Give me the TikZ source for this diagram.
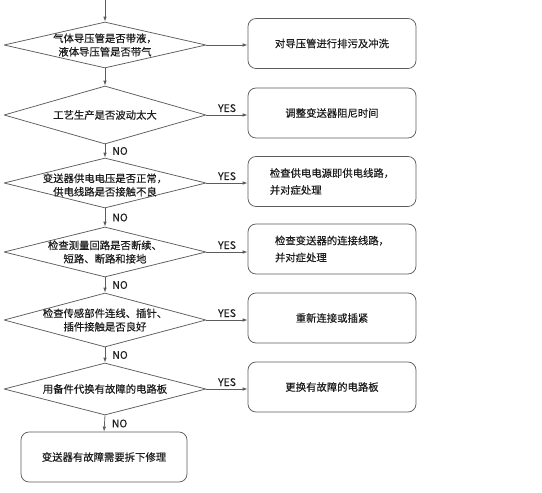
\documentclass[tikz,border=0pt]{standalone}
\usepackage{fontspec}
\setmainfont{Noto Sans CJK SC}[FakeBold=0.35]
\usetikzlibrary{arrows.meta,calc,positioning,shapes.geometric}
\definecolor{fcInk}{HTML}{1C1C1C}
\definecolor{fcLine}{HTML}{5C5C5C}
\tikzset{
 chart/.style={font=\fontsize{10.4}{13.5}\selectfont,line join=round,text=fcInk},
 test/.style={diamond,draw=fcLine,line width=.75pt,inner sep=0pt,minimum width=202bp,minimum height=50bp},
 ask/.style={align=center,inner sep=0pt},
 act/.style={rectangle,rounded corners=8bp,draw=fcLine,line width=.75pt,minimum width=168bp,minimum height=50bp,align=left},
 flow/.style={draw=fcLine,line width=.75pt,-{Latex[length=5pt,width=3.6pt]}},
 yeslab/.style={above,font=\fontsize{10.5}{12}\selectfont,inner sep=2.5pt},
 nolab/.style={right,font=\fontsize{10.5}{12}\selectfont,inner sep=0pt,xshift=7bp}
}

\begin{document}
\begin{tikzpicture}[chart,x=1bp,y=-1bp]
 \useasboundingbox (0,0) rectangle (542,493);
 \coordinate (start) at (105,0);
 % questions
 \node[test,minimum height=46bp] (d1) at (105,45) {};
 \node[ask] (q1) at (d1) {气体导压管是否带液，\\液体导压管是否带气};
 \node[test,minimum height=58bp] (d2) at (105,115) {};
 \node[ask] (q2) at (d2) {工艺生产是否波动太大};
 \node[test] (d3) at (105,183) {};
 \node[ask] (q3) at ([yshift=-2bp]d3) {变送器供电电压是否正常，\\供电线路是否接触不良};
 \node[test] (d4) at (105,252) {};
 \node[ask] (q4) at (d4) {检查测量回路是否断续、\\短路、断路和接地};
 \node[test,minimum height=54bp] (d5) at (105,320) {};
 \node[ask] (q5) at (d5) {检查传感部件连线、插针、\\插件接触是否良好};
 \node[test,minimum height=52bp] (d6) at (105,389) {};
 \node[ask] (q6) at (d6) {用备件代换有故障的电路板};
 % actions
 \node[act] (b1) at (332,43.5) {对导压管进行排污及冲洗};
 \node[act] (b2) at (332,113) {调整变送器阻尼时间};
 \node[act] (b3) at (332,181.5) {检查供电电源即供电线路，\\[3.5bp]并对症处理};
 \node[act] (b4) at (332,249) {检查变送器的连接线路，\\[3.5bp]并对症处理};
 \node[act] (b5) at (332,318) {重新连接或插紧};
 \node[act] (b6) at (332,387) {更换有故障的电路板};
 \node[act,minimum width=166bp] (fin) at (104,457) {变送器有故障需要拆下修理};
 % flow
 \draw[flow] (start) -- (d1.north);
 \draw[flow] (d1.south) -- (d2.north);
 \foreach \a/\b in {d2/d3,d3/d4,d4/d5,d5/d6}{
   \draw[flow] (\a.south) -- node[nolab] {NO} (\b.north);}
 \draw[flow] (d6.south) -- node[nolab] {NO} (fin.north);
 \draw[flow] (d1.east) -- (d1.east -| b1.west);
 \foreach \i in {2,...,6}{
   \draw[flow] (d\i.east) -- node[yeslab] {YES} (d\i.east -| b\i.west);}
\end{tikzpicture}
\end{document}
